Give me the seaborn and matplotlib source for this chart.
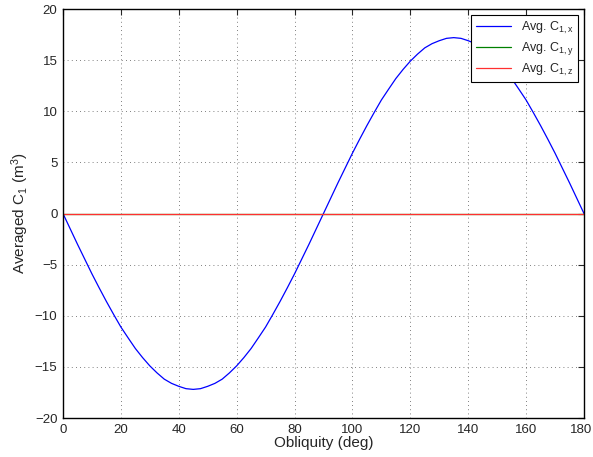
import numpy as np
import pandas as pd
import seaborn as sns
import matplotlib.pyplot as plt
from matplotlib.transforms import ScaledTranslation

# obliquity samples (deg) and averaged C1 components
obliquity = [i * 2.5 for i in range(73)]
c1_x_first = [0.0, -1.5, -3.0, -4.45, -5.9, -7.27, -8.6, -9.87, -11.1, -12.16,
              -13.2, -14.09, -14.9, -15.59, -16.2, -16.61, -16.9, -17.13, -17.2,
              -17.13, -16.9, -16.61, -16.2, -15.59, -14.9, -14.09, -13.2, -12.16,
              -11.1, -9.87, -8.6, -7.27, -5.9, -4.45, -3.0, -1.5]
c1_x_second = [0.0, 1.5, 3.0, 4.45, 5.9, 7.27, 8.6, 9.87, 11.1, 12.16,
               13.2, 14.09, 14.9, 15.59, 16.2, 16.61, 16.9, 17.13, 17.2,
               17.13, 16.9, 16.61, 16.2, 15.59, 14.9, 14.09, 13.2, 12.16,
               11.1, 9.87, 8.6, 7.27, 5.9, 4.45, 3.0, 1.5, 0.0]
c1_x = c1_x_first + c1_x_second
c1_y = [0.0] * len(obliquity)
c1_z = [0.0] * len(obliquity)

series_labels = ["Avg. C$_{1,x}$", "Avg. C$_{1,y}$", "Avg. C$_{1,z}$"]
series_colors = ["#0000ff", "#008000", "#ff3030"]

sns.set_style("white")
plt.rcParams['font.family'] = ['Liberation Sans', 'DejaVu Sans']
plt.rcParams['mathtext.fontset'] = 'custom'
plt.rcParams['mathtext.rm'] = 'Liberation Sans'
plt.rcParams['mathtext.it'] = 'Liberation Sans'

fig = plt.figure(figsize=(5.93, 4.57), dpi=100)
ax = fig.add_axes([0.1062, 0.0853, 0.8786, 0.895])

df = pd.DataFrame({"obliquity": obliquity, "x": c1_x, "y": c1_y, "z": c1_z})
for col, lab, colr in zip(["x", "y", "z"], series_labels, series_colors):
    sns.lineplot(data=df, x="obliquity", y=col, color=colr, label=lab,
                 linewidth=0.9, ax=ax)

ax.set_xlim(0, 180)
ax.set_ylim(-20, 20)
ax.set_xticks(range(0, 181, 20))
ax.set_yticks(range(-20, 21, 5))
ax.set_yticklabels(["\u221220", "\u221215", "\u221210", "\u22125", "0", "5", "10", "15", "20"])
ax.grid(True, linestyle=(0, (1, 4)), color="#555555", linewidth=0.6)
ax.tick_params(direction="in", length=4, width=0.8, labelsize=9.5, top=True, right=True,
               labeltop=False, labelright=False, pad=4)
for s in ax.spines.values():
    s.set_linewidth(1.0)
    s.set_color("black")

# nudge the last x tick label so it stays inside the figure
last = ax.get_xticklabels()[-1]
last.set_transform(last.get_transform() + ScaledTranslation(-3 / 100, 0, fig.dpi_scale_trans))

ax.set_xlabel("Obliquity (deg)", fontsize=11, labelpad=0)
ax.set_ylabel("Averaged C$_1$ (m$^3$)", fontsize=11, labelpad=3)

leg = ax.legend(loc="upper right", fontsize=9, frameon=True, fancybox=False,
                borderaxespad=0.5, handlelength=2.8, labelspacing=0.35,
                borderpad=0.35)
leg.get_frame().set_edgecolor("black")
leg.get_frame().set_linewidth(0.8)
leg.get_frame().set_alpha(1)

fig.savefig("out.png", dpi=100)
